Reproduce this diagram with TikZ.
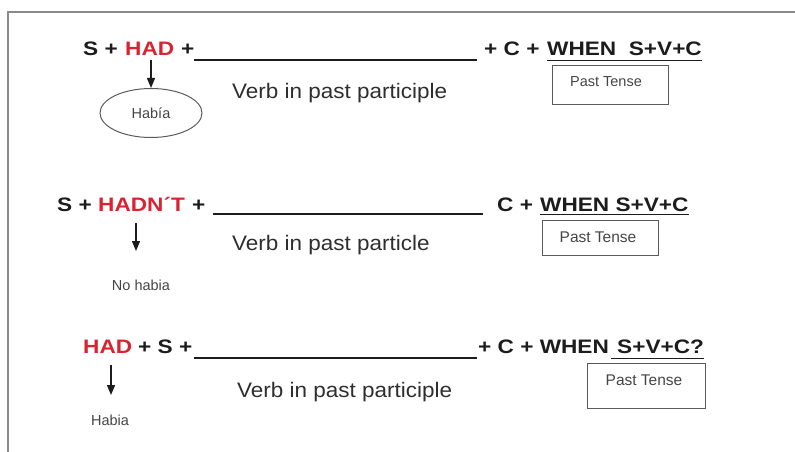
\documentclass[tikz,border=0pt]{standalone}
\usepackage{fontspec}
\usetikzlibrary{arrows.meta,shapes.geometric}
\setmainfont{Liberation Sans}
\newfontfamily\formfont[FakeStretch=1.16]{Liberation Sans}
\newfontfamily\verbfont[FakeStretch=1.07]{Liberation Sans}
\newfontfamily\notefont[FakeStretch=1.0]{Liberation Sans}
\definecolor{ink}{HTML}{1C1C1C}
\definecolor{ink2}{HTML}{2E2E2E}
\definecolor{ink3}{HTML}{454545}
\definecolor{hadred}{HTML}{DA2330}
\definecolor{framegray}{HTML}{8A8A8A}
\definecolor{boxgray}{HTML}{5A5A5A}
\tikzset{
  formula/.style={inner sep=0pt, anchor=base west, text=ink,
    font=\formfont\bfseries\fontsize{19.5}{20}\selectfont},
  hadword/.style={formula, text=hadred},
  verbtxt/.style={inner sep=0pt, anchor=base west, text=ink2,
    font=\verbfont\fontsize{21}{22}\selectfont},
  note/.style={inner sep=0pt, text=ink3, font=\notefont\fontsize{14.5}{15}\selectfont},
  bignote/.style={note, font=\notefont\fontsize{15.5}{16}\selectfont},
  tensebox/.style={draw=boxgray, line width=1pt, inner sep=0pt},
  blank/.style={draw=ink, line width=1.6pt},
  uline/.style={draw=ink, line width=1.4pt},
  arr/.style={draw=ink, line width=1.4pt, -{Triangle[length=10pt,width=8pt]}},
  bubble/.style={ellipse, draw=boxgray, line width=1pt, inner sep=0pt,
    minimum width=102pt, minimum height=49pt}
}
\begin{document}
\begin{tikzpicture}[x=1pt, y=-1pt]
\useasboundingbox (0,0) rectangle (795,452);
% page frame
\draw[framegray, line width=1.5pt] (8,452) -- (8,12) -- (795,12);

% ---- affirmative: S + HAD + ... ----
\node[formula] (s1) at (83,56) {S +};
\node[hadword] (had1) at (125,56) {HAD};
\node[formula] (p1) at (181,56) {+};
\coordinate (b1s) at (194,60);
\coordinate (b1e) at (477,60);
\draw[blank] (b1s) -- (b1e);
\node[formula] (c1) at (484,56) {+ C +};
\node[formula] (w1) at (547,56) {WHEN\ \ S+V+C};
\draw[uline] ([yshift=-4pt]w1.south west) -- ([yshift=-4pt]w1.south east);
\node[verbtxt] (v1) at (232,98) {Verb in past participle};
\node[bubble, note] (hab1) at (151,113) {Había};
\draw[arr] (had1.south -| hab1.north) ++(0,4) -- (hab1.north);
\node[tensebox, minimum width=116pt, minimum height=38pt] (box1) at (610,85) {};
\node[note] (pt1) at (606,82) {Past Tense};

% ---- negative: S + HADN'T + ... ----
\node[formula] (s2) at (57,211) {S +};
\node[hadword] (had2) at (98,211) {HADN´T};
\node[formula] (p2) at (192,211) {+};
\coordinate (b2s) at (213,214);
\coordinate (b2e) at (483,214);
\draw[blank] (b2s) -- (b2e);
\node[formula] (c2) at (497,211) {C +};
\node[formula] (w2) at (540,211) {WHEN S+V+C};
\draw[uline] ([yshift=-3pt]w2.south west) -- ([yshift=-3pt]w2.south east);
\node[verbtxt] (v2) at (232,250) {Verb in past particle};
\coordinate (a2s) at (136,223);
\coordinate (a2e) at (136,251);
\draw[arr] (a2s) -- (a2e);
\node[note] (nh2) at (141,285) {No habia};
\node[tensebox, minimum width=116pt, minimum height=35pt] (box2) at (600,237.5) {};
\node[bignote] (pt2) at (598,237) {Past Tense};

% ---- question: HAD + S + ... ----
\node[hadword] (had3) at (83,353) {HAD};
\node[formula] (s3) at (138,353) {+ S +};
\coordinate (b3s) at (194,358);
\coordinate (b3e) at (477,358);
\draw[blank] (b3s) -- (b3e);
\node[formula] (c3) at (478,353) {+ C + WHEN};
\node[formula] (w3) at (617,353) {S+V+C?};
\draw[uline] ([xshift=-6pt,yshift=-5pt]w3.south west) -- ([yshift=-5pt]w3.south east);
\node[verbtxt] (v3) at (237,397) {Verb in past participle};
\coordinate (a3s) at (111,365);
\coordinate (a3e) at (111,395);
\draw[arr] (a3s) -- (a3e);
\node[note] (hb3) at (110,420) {Habia};
\node[tensebox, minimum width=118pt, minimum height=45pt] (box3) at (646,385.5) {};
\node[bignote] (pt3) at (644,380) {Past Tense};
\end{tikzpicture}
\end{document}
